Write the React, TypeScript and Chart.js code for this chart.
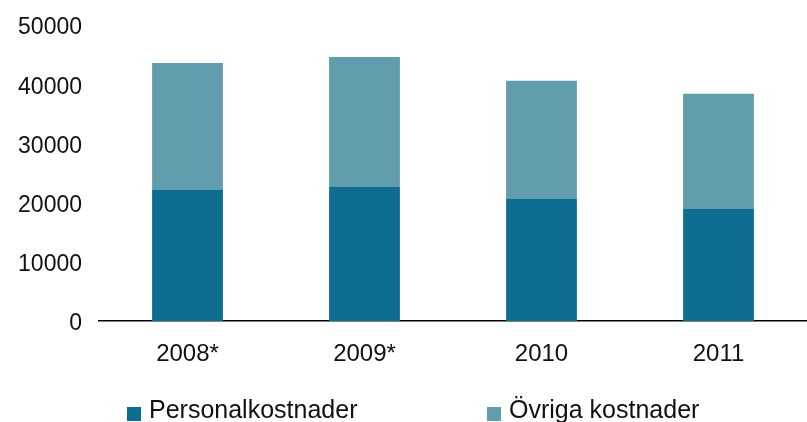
import React, { useEffect, useRef } from "react";
import { Chart, registerables } from "chart.js";

Chart.register(...registerables);

const categories = ["2008*", "2009*", "2010", "2011"];
const personalkostnader = [22200, 22700, 20700, 19000];
const ovrigaKostnader = [21400, 21900, 19900, 19400];
const yTicks = [0, 10000, 20000, 30000, 40000, 50000];

const seriesNames = ["Personalkostnader", "Övriga kostnader"];
const colors = ["#0E6D91", "#629DAE"];

const legendPlugin = {
  id: "customLegend",
  afterDraw(chart: any) {
    const ctx = chart.ctx;
    const xs = [127, 487];
    ctx.save();
    ctx.font = "25px 'Liberation Sans', Arial, sans-serif";
    ctx.textBaseline = "alphabetic";
    ctx.textAlign = "left";
    chart.data.datasets.forEach((ds: any, i: number) => {
      ctx.fillStyle = ds.backgroundColor;
      ctx.fillRect(xs[i], 407, 14, 14);
      ctx.fillStyle = "#111";
      ctx.fillText(ds.label, xs[i] + 22, 418);
    });
    ctx.restore();
  },
};

export default function App() {
  const ref = useRef<HTMLCanvasElement>(null);
  useEffect(() => {
    if (!ref.current) return;
    const chart = new Chart(ref.current, {
      type: "bar",
      data: {
        labels: categories,
        datasets: [
          { label: seriesNames[0], data: personalkostnader, backgroundColor: colors[0] },
          { label: seriesNames[1], data: ovrigaKostnader, backgroundColor: colors[1] },
        ],
      },
      options: {
        animation: false,
        responsive: false,
        devicePixelRatio: 1,
        layout: { padding: { top: 25, right: 0, left: 0, bottom: 0 } },
        datasets: { bar: { categoryPercentage: 1, barPercentage: 0.4 } },
        plugins: { legend: { display: false }, tooltip: { enabled: false } },
        scales: {
          x: {
            stacked: true,
            grid: { display: false, drawTicks: false },
            border: { display: true, color: "#000", width: 1.5 },
            ticks: {
              color: "#111",
              font: { family: "'Liberation Sans', Arial, sans-serif", size: 24 },
              padding: 19,
            },
            afterFit: (s: any) => {
              s.height = 101;
            },
          },
          y: {
            stacked: true,
            min: 0,
            max: 50000,
            afterBuildTicks: (s: any) => {
              s.ticks = yTicks.map((v) => ({ value: v }));
            },
            grid: { display: false, drawTicks: false },
            border: { display: false },
            ticks: {
              color: "#111",
              font: { family: "'Liberation Sans', Arial, sans-serif", size: 23 },
              padding: 17,
              labelOffset: 3,
              callback: (v: any) => String(v),
            },
            afterFit: (s: any) => {
              s.width = 99;
              s.paddingTop = 0;
              s.paddingBottom = 0;
            },
          },
        },
      },
      plugins: [legendPlugin],
    });
    return () => chart.destroy();
  }, []);
  return (
    <div style={{ position: "absolute", left: 0, top: 0, width: 807, height: 422, background: "#fff" }}>
      <canvas ref={ref} width={807} height={422} />
    </div>
  );
}
